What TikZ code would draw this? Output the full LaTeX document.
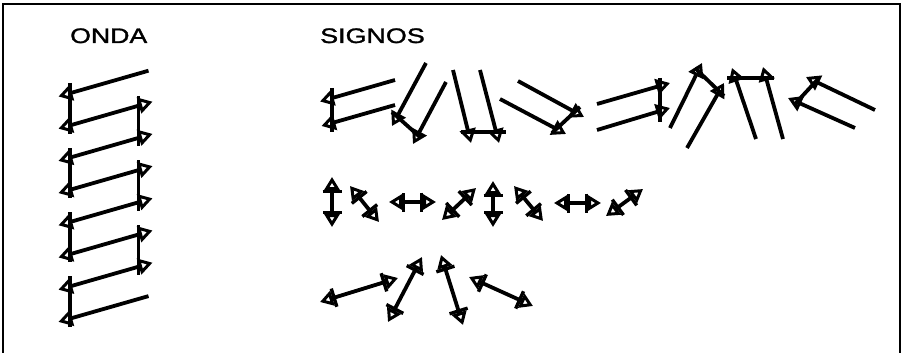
\documentclass[tikz,border=0pt]{standalone}
\usepackage{fontspec}
\setmainfont{Liberation Sans}
\newfontfamily\labfont[FakeBold=1.3]{Liberation Sans}
\usepackage{graphicx}
\usetikzlibrary{arrows.meta}
\begin{document}
\begin{tikzpicture}[x=1pt,y=-1pt,
  ln/.style={line width=3.8pt},
  >={Triangle[open,length=14pt,width=16pt,line width=3pt]},
  sg/.style={ln,{Triangle[open,length=13pt,width=15pt,line width=3pt] Bar[width=19pt,line width=3.4pt]}-{Bar[width=19pt,line width=3.4pt] Triangle[open,length=13pt,width=15pt,line width=3pt]}},
  lab/.style={anchor=base west,inner sep=0pt,font=\labfont\fontsize{21}{24}\selectfont}]
\useasboundingbox (0,0) rectangle (903,353);
\draw[line width=2pt] (3,353) -- (3,4) -- (900,4) -- (900,353);
% labels
\node[lab] (onda) at (70,43) {\scalebox{1.27}[1]{ONDA}};
\node[lab] (signos) at (320,43) {\scalebox{1.28}[1]{SIGNOS}};
% ONDA diagonals
\draw[ln,->]  (148.5,70.7) -- (58.5,96.5);
\draw[ln,<->] (58.5,128.7) -- (152.5,101.7);
\draw[ln,<->] (58.5,160.9) -- (152.5,133.9);
\draw[ln,<->] (58.5,193.1) -- (152.5,166.1);
\draw[ln,<->] (58.5,225.3) -- (152.5,198.3);
\draw[ln,<->] (58.5,257.5) -- (152.5,230.5);
\draw[ln,<->] (58.5,289.7) -- (152.5,262.7);
\draw[ln,->]  (148.5,296.1) -- (58.5,321.9);
% ONDA verticals
\draw[ln] (70,83) -- (70,134);
\draw[ln] (70,148) -- (70,198);
\draw[ln] (70,212) -- (70,262);
\draw[ln] (70,276) -- (70,327);
\draw[ln] (138.5,96) -- (138.5,146);
\draw[ln] (138.5,160) -- (138.5,211);
\draw[ln] (138.5,225) -- (138.5,275);
% Row 1 : A
\draw[ln,->] (395,80) -- (320,101.5);
\draw[ln,->] (395,105) -- (321.5,126);
\draw[ln] (332,88) -- (332,132);
% B
\draw[ln,->] (426,63) -- (392,126);
\draw[ln,->] (446,82) -- (413,144);
\draw[ln] (392,112) -- (421,138);
% C
\draw[ln,->] (453,70) -- (471,143);
\draw[ln,->] (480,70) -- (499,143);
\draw[ln] (461,132) -- (506,132);
% D
\draw[ln,->] (518,81) -- (584,117);
\draw[ln,->] (500,99) -- (566,134);
\draw[ln] (552,133) -- (580,107);
% E
\draw[ln,->] (597,104) -- (670,83);
\draw[ln,->] (597,130) -- (670,108);
\draw[ln] (660,78) -- (660,122);
% F
\draw[ln,->] (670,128) -- (702,63);
\draw[ln,->] (687,148) -- (724,83);
\draw[ln] (695,68) -- (724,96);
% G
\draw[ln,->] (756,139) -- (732,68);
\draw[ln,->] (783,139) -- (763,67);
\draw[ln] (727,78) -- (774,78);
% H
\draw[ln,->] (875,110) -- (806,77);
\draw[ln,->] (855,128) -- (788,98);
\draw[ln] (794,105) -- (819,78);
% Row 2
\draw[sg] (332,177) -- (332,227);
\draw[sg] (350,186) -- (379,222);
\draw[sg] (389,202) -- (436,202);
\draw[sg] (442,220) -- (476,188);
\draw[sg] (493,181) -- (493,227);
\draw[sg] (514,186) -- (543,221);
\draw[sg] (554,203) -- (601,203);
\draw[sg] (606,216) -- (643,189);
% Row 3
\draw[sg] (320,302) -- (398,278);
\draw[sg] (388,322) -- (422,257);
\draw[sg] (441,255) -- (463,325);
\draw[sg] (469,277) -- (533,306);
\end{tikzpicture}
\end{document}
